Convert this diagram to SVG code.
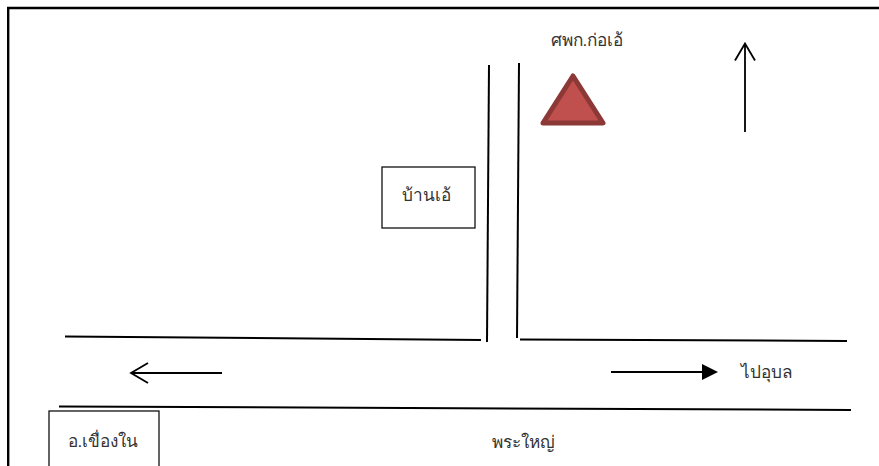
<svg xmlns="http://www.w3.org/2000/svg" width="879" height="466" viewBox="0 0 879 466">
<style>
.f{fill:none;stroke:#000;stroke-width:2.4}
.l{fill:none;stroke:#000;stroke-width:2}
.a{fill:none;stroke:#000;stroke-width:1.8}
.b{fill:#fff;stroke:#111;stroke-width:1.3}
text{font-family:"Liberation Sans","DejaVu Sans",sans-serif;font-size:17.200px;font-weight:300;fill:#333;text-anchor:middle}
</style>
<rect width="879" height="466" fill="#fff"/>
<g id="frame"><path class="f" d="M8.2 466V8H879"/></g>
<g id="connectors">
<path class="l" d="M489 65L487 342"/>
<path class="l" d="M519 63L517 338"/>
<path class="l" d="M65 336.500L481 340"/>
<path class="l" d="M520 339.500L847 341"/>
<path class="l" d="M59 406.500L851 410"/>
<path class="a" d="M745 132V44M735 60.500L745 43.500L755 60.500"/>
<path class="a" d="M222 373H132M148 363L131 373L148 383"/>
<path class="a" d="M611 372H703"/>
<polygon points="702,364 718,372 702,380" fill="#000"/>
</g>
<g id="triangle"><polygon points="573,76 603,123 543,123" fill="#c0504d" stroke="#8c3836" stroke-width="5" stroke-linejoin="round"/></g>
<g id="n-ban"><rect class="b" x="382" y="167" width="93" height="61"/><text x="426" y="201">บ้านเอ้</text></g>
<g id="n-khuang"><rect class="b" x="49" y="411" width="110" height="60"/><text x="103" y="447">อ.เขื่องใน</text></g>
<g id="t-sorpork"><text x="587" y="46">ศพก.ก่อเอ้</text></g>
<g id="t-ubon"><text x="767" y="378">ไปอุบล</text></g>
<g id="t-phra"><text x="523" y="448">พระใหญ่</text></g>
</svg>
